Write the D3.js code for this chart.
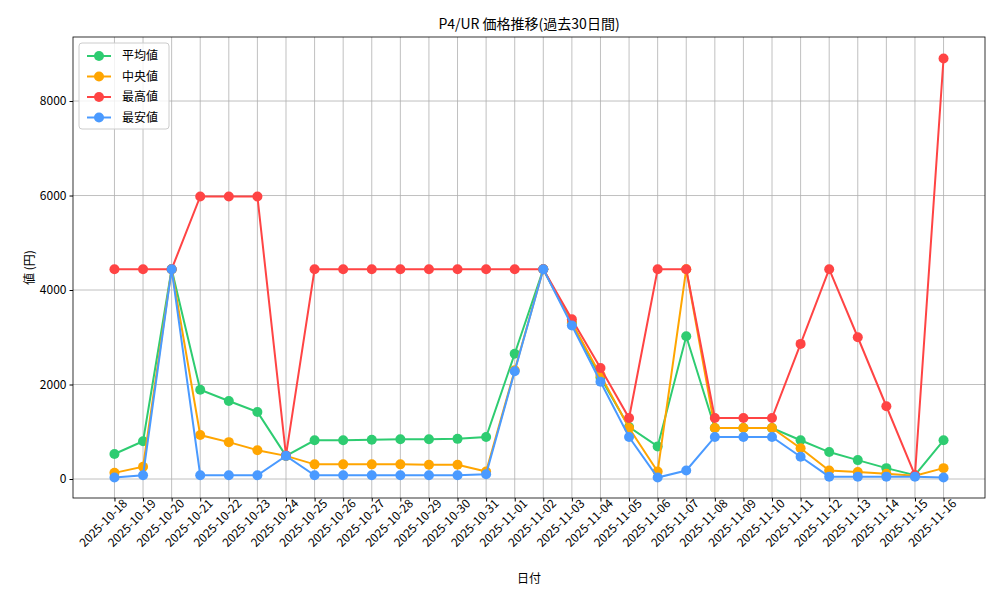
<!DOCTYPE html>
<html><head><meta charset="utf-8">
<script src="https://cdn.jsdelivr.net/npm/d3@7"></script>
<style>body{margin:0;background:#fff}text{font-family:"Noto Sans CJK JP","DejaVu Sans Mono",sans-serif}</style>
</head><body><svg id="c" width="1000" height="600"></svg>
<script>
const dates=["2025-10-18","2025-10-19","2025-10-20","2025-10-21","2025-10-22","2025-10-23","2025-10-24","2025-10-25","2025-10-26","2025-10-27","2025-10-28","2025-10-29","2025-10-30","2025-10-31","2025-11-01","2025-11-02","2025-11-03","2025-11-04","2025-11-05","2025-11-06","2025-11-07","2025-11-08","2025-11-09","2025-11-10","2025-11-11","2025-11-12","2025-11-13","2025-11-14","2025-11-15","2025-11-16"];
const avgVals=[530,800,4440,1890,1650,1420,490,820,820,830,840,840,850,890,2650,4440,3300,2150,1100,690,3020,1080,1080,1080,820,570,400,230,80,820];
const medVals=[130,260,4440,930,780,610,490,310,310,310,310,300,300,160,2300,4440,3300,2200,1080,160,4440,1080,1080,1080,650,180,150,110,70,230];
const maxVals=[4440,4440,4440,5980,5980,5980,500,4440,4440,4440,4440,4440,4440,4440,4440,4440,3380,2350,1290,4440,4440,1290,1290,1290,2860,4440,3000,1540,80,8900];
const minVals=[30,80,4440,80,80,80,490,80,80,80,80,80,80,100,2280,4440,3250,2060,890,30,180,890,890,890,470,50,50,50,50,30];
const yTicks=[0,2000,4000,6000,8000];
const series=[{name:"平均値",v:avgVals,c:"#2ecc71"},{name:"中央値",v:medVals,c:"#ffa500"},{name:"最高値",v:maxVals,c:"#ff4444"},{name:"最安値",v:minVals,c:"#4a9aff"}];
const L=73,R=985,T=37,B=498;
const svg=d3.select("#c");
const x=d3.scalePoint().domain(dates).range([L,R]).padding(1.45);
const y=d3.scaleLinear().domain([-402,9355]).range([B,T]);
// grid
svg.append("g").selectAll("line").data(dates).join("line").attr("x1",d=>x(d)).attr("x2",d=>x(d)).attr("y1",T).attr("y2",B).attr("stroke","#b0b0b0").attr("stroke-width",0.8);
svg.append("g").selectAll("line").data(yTicks).join("line").attr("x1",L).attr("x2",R).attr("y1",d=>y(d)).attr("y2",d=>y(d)).attr("stroke","#b0b0b0").attr("stroke-width",0.8);
svg.append("rect").attr("x",L).attr("y",T).attr("width",R-L).attr("height",B-T).attr("fill","none").attr("stroke","#000").attr("stroke-width",0.8);
const xa=svg.append("g").attr("transform",`translate(0,${B})`).call(d3.axisBottom(x).tickSize(3.5).tickSizeOuter(0));
xa.select(".domain").remove();
xa.selectAll("text").attr("font-size",12).attr("fill","#000").attr("text-anchor","end").attr("dx","0.4em").attr("dy","0.6em").attr("transform","rotate(-45)");
const ya=svg.append("g").attr("transform",`translate(${L},0)`).call(d3.axisLeft(y).tickValues(yTicks).tickFormat(d3.format("d")).tickSize(3.5).tickSizeOuter(0));
ya.select(".domain").remove();
ya.selectAll("text").attr("font-size",12).attr("fill","#000");
const line=d3.line().x((d,i)=>x(dates[i])).y(d=>y(d));
series.forEach(s=>{
 svg.append("path").datum(s.v).attr("d",line).attr("fill","none").attr("stroke",s.c).attr("stroke-width",2);
 svg.append("g").selectAll("circle").data(s.v).join("circle").attr("cx",(d,i)=>x(dates[i])).attr("cy",d=>y(d)).attr("r",5).attr("fill",s.c);
});
svg.append("text").attr("x",(L+R)/2).attr("y",29).attr("text-anchor","middle").attr("font-size",14).text("P4/UR 価格推移(過去30日間)");
svg.append("text").attr("x",(L+R)/2).attr("y",583).attr("text-anchor","middle").attr("font-size",12).text("日付");
svg.append("text").attr("transform",`translate(34,${(T+B)/2}) rotate(-90)`).attr("text-anchor","middle").attr("font-size",12).text("値 (円)");
const lg=svg.append("g").attr("transform","translate(79,43)");
lg.append("rect").attr("width",90).attr("height",86).attr("rx",3).attr("fill","#fff").attr("fill-opacity",0.8).attr("stroke","#ccc");
series.forEach((s,i)=>{
 const g=lg.append("g").attr("transform",`translate(8,${13+i*20.5})`);
 g.append("line").attr("x1",0).attr("x2",24).attr("stroke",s.c).attr("stroke-width",2);
 g.append("circle").attr("cx",12).attr("r",5).attr("fill",s.c);
 g.append("text").attr("x",35).attr("dy","0.35em").attr("font-size",12).text(s.name);
});
</script></body></html>
